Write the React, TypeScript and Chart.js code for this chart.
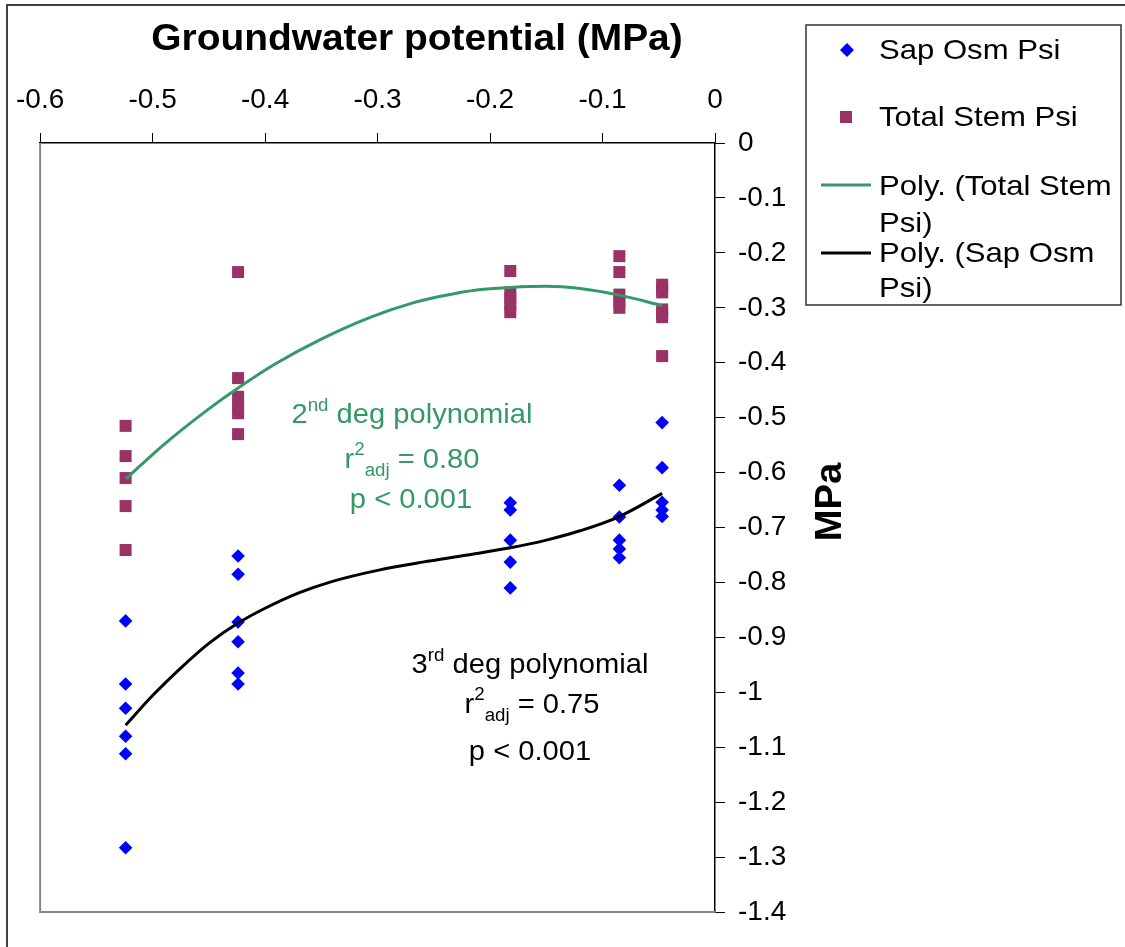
import React, { useEffect, useRef } from "react";
import { Chart, registerables } from "chart.js";

Chart.register(...registerables);

const FONT = "'Liberation Sans', Arial, Helvetica, sans-serif";

// Groundwater potential (MPa) for each sampling group
const groundwaterLevels = [-0.524, -0.424, -0.182, -0.085, -0.047];

// Sap osmotic potential (MPa) per group
const sapOsmPsi = [
  [-0.870, -0.985, -1.029, -1.080, -1.112, -1.283],
  [-0.752, -0.785, -0.872, -0.908, -0.965, -0.985],
  [-0.655, -0.668, -0.723, -0.763, -0.810],
  [-0.623, -0.681, -0.723, -0.739, -0.755],
  [-0.509, -0.591, -0.654, -0.668, -0.680],
];

// Total stem water potential (MPa) per group
const totalStemPsi = [
  [-0.515, -0.570, -0.610, -0.661, -0.741],
  [-0.235, -0.428, -0.462, -0.477, -0.492, -0.530],
  [-0.233, -0.272, -0.283, -0.295, -0.308],
  [-0.206, -0.235, -0.276, -0.288, -0.300],
  [-0.258, -0.265, -0.272, -0.303, -0.310, -0.317, -0.388],
];

// Trend line readings: 2nd degree polynomial (Total Stem Psi)
const stemTrendX = [-0.524, -0.49, -0.45, -0.424, -0.39, -0.35, -0.306, -0.27, -0.244, -0.21, -0.182, -0.15, -0.12, -0.085, -0.047];
const stemTrendY = [-0.612, -0.549, -0.484, -0.446, -0.401, -0.357, -0.317, -0.292, -0.279, -0.267, -0.263, -0.261, -0.265, -0.277, -0.296];

// Trend line readings: 3rd degree polynomial (Sap Osm Psi)
const sapTrendX = [-0.524, -0.5, -0.475, -0.45, -0.424, -0.4, -0.37, -0.34, -0.3, -0.26, -0.22, -0.182, -0.15, -0.12, -0.085, -0.047];
const sapTrendY = [-1.060, -1.006, -0.956, -0.911, -0.874, -0.847, -0.819, -0.798, -0.778, -0.763, -0.750, -0.737, -0.723, -0.706, -0.680, -0.638];

const xRange = [-0.6, 0];
const yRange = [-1.4, 0];
const tickStep = 0.1;

const xTitle = "Groundwater potential (MPa)";
const yTitle = "MPa";
const legendSap = ["Sap Osm Psi"];
const legendStem = ["Total Stem Psi"];
const legendStemPoly = ["Poly. (Total Stem", "Psi)"];
const legendSapPoly = ["Poly. (Sap Osm", "Psi)"];

const BLUE = "#0000FF";
const PLUM = "#993366";
const GREEN = "#339966";

type Run = { t: string; size: number; dy: number; bold?: boolean };

function drawRuns(
  ctx: CanvasRenderingContext2D,
  runs: Run[],
  x0: number,
  base: number,
  color: string,
  sx: number,
  align: "center" | "left"
) {
  let total = 0;
  const widths = runs.map((r) => {
    ctx.font = `${r.bold ? "bold " : ""}${r.size}px ${FONT}`;
    const w = ctx.measureText(r.t).width;
    total += w;
    return w;
  });
  const start = align === "center" ? x0 - (total * sx) / 2 : x0;
  ctx.save();
  ctx.translate(start, base);
  ctx.scale(sx, 1);
  ctx.fillStyle = color;
  ctx.textAlign = "left";
  ctx.textBaseline = "alphabetic";
  let x = 0;
  runs.forEach((r, i) => {
    ctx.font = `${r.bold ? "bold " : ""}${r.size}px ${FONT}`;
    ctx.fillText(r.t, x, r.dy);
    x += widths[i];
  });
  ctx.restore();
}

const fmt = (v: number | string) => {
  const n = Math.round(Number(v) * 10) / 10;
  return String(n === 0 ? 0 : n);
};

const decorPlugin = {
  id: "decor",
  beforeDatasetsDraw(chart: any) {
    const { ctx, chartArea } = chart;
    ctx.save();
    ctx.strokeStyle = "#868686";
    ctx.lineWidth = 2;
    ctx.beginPath();
    ctx.moveTo(chartArea.left, chartArea.top);
    ctx.lineTo(chartArea.left, chartArea.bottom);
    ctx.lineTo(chartArea.right, chartArea.bottom);
    ctx.stroke();
    ctx.restore();
  },
  afterDraw(chart: any) {
    const ctx: CanvasRenderingContext2D = chart.ctx;
    ctx.save();
    // outer frame
    ctx.strokeStyle = "#404040";
    ctx.lineWidth = 2;
    ctx.strokeRect(7, 5, 1130, 960);

    // x title
    drawRuns(ctx, [{ t: xTitle, size: 36, dy: 0, bold: true }], 417, 50, "#000", 1.08, "center");

    // y title
    ctx.save();
    ctx.translate(841, 502);
    ctx.rotate(-Math.PI / 2);
    drawRuns(ctx, [{ t: yTitle, size: 36, dy: 0, bold: true }], 0, 0, "#000", 1.06, "center");
    ctx.restore();

    // annotations
    drawRuns(ctx, [
      { t: "2", size: 28, dy: 0 },
      { t: "nd", size: 18, dy: -12 },
      { t: " deg polynomial", size: 28, dy: 0 },
    ], 412, 423, GREEN, 1.04, "center");
    drawRuns(ctx, [
      { t: "r", size: 28, dy: 0 },
      { t: "2", size: 18, dy: -13 },
      { t: "adj", size: 18, dy: 8 },
      { t: " = 0.80", size: 28, dy: 0 },
    ], 412, 468, GREEN, 1.04, "center");
    drawRuns(ctx, [{ t: "p < 0.001", size: 28, dy: 0 }], 411, 508, GREEN, 1.04, "center");

    drawRuns(ctx, [
      { t: "3", size: 28, dy: 0 },
      { t: "rd", size: 18, dy: -12 },
      { t: " deg polynomial", size: 28, dy: 0 },
    ], 530, 673, "#000", 1.04, "center");
    drawRuns(ctx, [
      { t: "r", size: 28, dy: 0 },
      { t: "2", size: 18, dy: -13 },
      { t: "adj", size: 18, dy: 8 },
      { t: " = 0.75", size: 28, dy: 0 },
    ], 532, 713, "#000", 1.04, "center");
    drawRuns(ctx, [{ t: "p < 0.001", size: 28, dy: 0 }], 530, 760, "#000", 1.04, "center");

    // legend
    ctx.strokeStyle = "#333";
    ctx.lineWidth = 1.5;
    ctx.strokeRect(806, 25, 315, 280);
    ctx.fillStyle = BLUE;
    ctx.beginPath();
    ctx.moveTo(847, 43);
    ctx.lineTo(854, 50);
    ctx.lineTo(847, 57);
    ctx.lineTo(840, 50);
    ctx.closePath();
    ctx.fill();
    ctx.fillStyle = PLUM;
    ctx.fillRect(840, 111, 12, 12);
    ctx.lineWidth = 3;
    ctx.strokeStyle = GREEN;
    ctx.beginPath();
    ctx.moveTo(821, 185);
    ctx.lineTo(871, 185);
    ctx.stroke();
    ctx.strokeStyle = "#000";
    ctx.beginPath();
    ctx.moveTo(821, 253);
    ctx.lineTo(871, 253);
    ctx.stroke();

    const lg = (t: string, y: number) =>
      drawRuns(ctx, [{ t, size: 28, dy: 0 }], 879, y, "#000", 1.11, "left");
    lg(legendSap[0], 59);
    lg(legendStem[0], 126);
    lg(legendStemPoly[0], 195);
    lg(legendStemPoly[1], 232);
    lg(legendSapPoly[0], 262);
    lg(legendSapPoly[1], 297);
    ctx.restore();
  },
};

export default function App() {
  const ref = useRef<HTMLCanvasElement | null>(null);

  useEffect(() => {
    if (!ref.current) return;
    const toPoints = (groups: number[][]) =>
      groups.flatMap((g, i) => g.map((y) => ({ x: groundwaterLevels[i], y })));
    const trend = (xs: number[], ys: number[]) => xs.map((x, i) => ({ x, y: ys[i] }));

    const tickFont = { family: FONT, size: 28 };
    const chart = new Chart(ref.current, {
      type: "scatter",
      data: {
        datasets: [
          {
            label: "Poly. (Total Stem Psi)",
            data: trend(stemTrendX, stemTrendY),
            showLine: true,
            borderColor: GREEN,
            backgroundColor: GREEN,
            borderWidth: 3,
            pointRadius: 0,
            cubicInterpolationMode: "monotone",
            order: 0,
          },
          {
            label: "Poly. (Sap Osm Psi)",
            data: trend(sapTrendX, sapTrendY),
            showLine: true,
            borderColor: "#000",
            backgroundColor: "#000",
            borderWidth: 3,
            pointRadius: 0,
            cubicInterpolationMode: "monotone",
            order: 0,
          },
          {
            label: "Sap Osm Psi",
            data: toPoints(sapOsmPsi),
            pointStyle: "rectRot",
            pointRadius: 6.8,
            backgroundColor: BLUE,
            borderColor: BLUE,
            pointBorderWidth: 0,
            borderWidth: 0,
            order: 1,
          },
          {
            label: "Total Stem Psi",
            data: toPoints(totalStemPsi),
            pointStyle: "rect",
            pointRadius: 8.5,
            backgroundColor: PLUM,
            borderColor: PLUM,
            pointBorderWidth: 0,
            borderWidth: 0,
            order: 1,
          },
        ] as any,
      },
      options: {
        responsive: false,
        animation: false,
        layout: { padding: { left: 39, right: 0, top: 0, bottom: 35 } },
        plugins: { legend: { display: false }, tooltip: { enabled: false } },
        scales: {
          x: {
            type: "linear",
            position: "top",
            min: xRange[0],
            max: xRange[1],
            ticks: {
              stepSize: tickStep,
              callback: fmt,
              font: tickFont,
              color: "#000",
              padding: 16,
              maxRotation: 0,
              autoSkip: false,
            },
            grid: { drawOnChartArea: false, drawTicks: true, tickLength: 10, color: "#000", lineWidth: 1 },
            border: { display: true, color: "#000", width: 1.5 },
            afterFit: (s: any) => {
              s.height = 143;
            },
          },
          y: {
            type: "linear",
            position: "right",
            min: yRange[0],
            max: yRange[1],
            ticks: {
              stepSize: tickStep,
              callback: fmt,
              font: tickFont,
              color: "#000",
              padding: 13,
              autoSkip: false,
            },
            grid: { drawOnChartArea: false, drawTicks: true, tickLength: 10, color: "#000", lineWidth: 1 },
            border: { display: true, color: "#000", width: 1.5 },
            afterFit: (s: any) => {
              s.width = 410;
            },
          },
        },
      } as any,
      plugins: [decorPlugin],
    });
    return () => chart.destroy();
  }, []);

  return (
    <div style={{ position: "absolute", left: 0, top: 0, width: 1125, height: 947, background: "#fff" }}>
      <canvas ref={ref} width={1125} height={947} style={{ display: "block" }} />
    </div>
  );
}
